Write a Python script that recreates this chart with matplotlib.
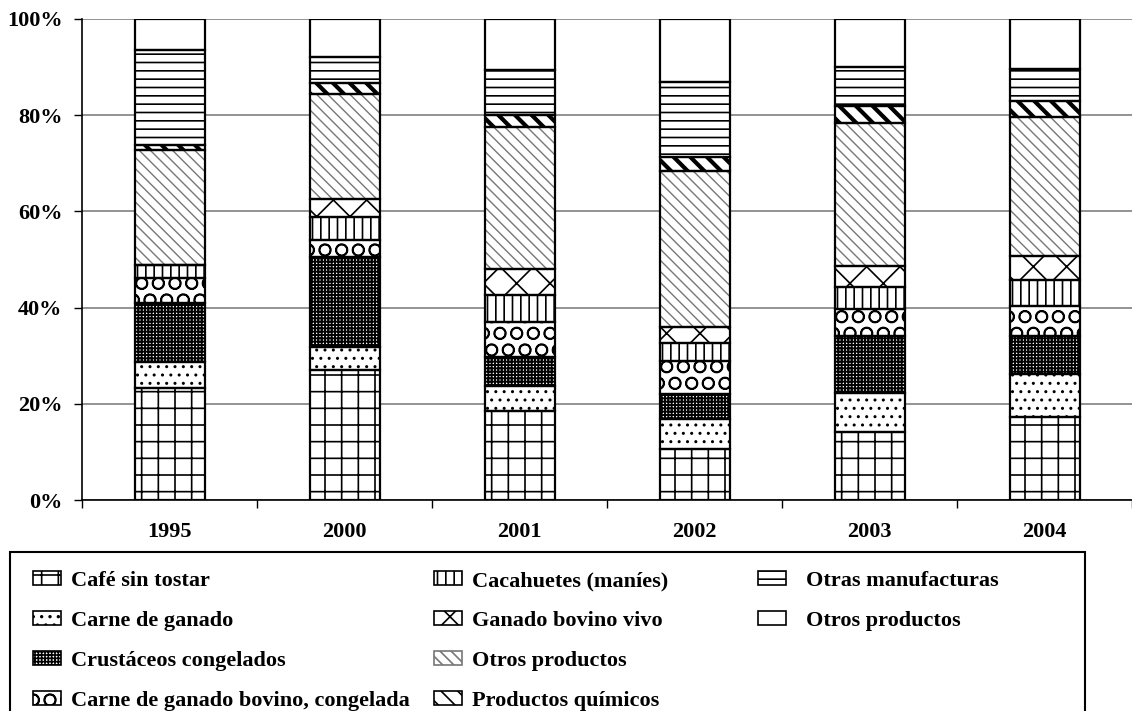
import matplotlib.pyplot as plt
from matplotlib.patches import Patch, Rectangle

plt.rcParams['font.family'] = ['Liberation Serif', 'DejaVu Serif']
plt.rcParams['font.weight'] = 'bold'
plt.rcParams['hatch.linewidth'] = 1.2

years = ["1995", "2000", "2001", "2002", "2003", "2004"]

# segment shares in %, bottom to top
cafe = [23.3, 27.0, 18.4, 10.7, 14.1, 17.3]
carne = [5.4, 4.9, 5.2, 6.1, 8.1, 8.8]
crustaceos = [12.3, 18.7, 6.2, 5.2, 11.8, 7.9]
bovino_cong = [5.2, 3.5, 7.3, 6.8, 5.8, 6.3]
cacahuetes = [2.7, 4.8, 5.5, 3.9, 4.5, 5.4]
ganado_vivo = [0.0, 3.7, 5.4, 3.3, 4.3, 5.1]
otros_1 = [23.9, 21.9, 29.6, 32.5, 29.8, 28.8]
quimicos = [1.0, 2.1, 2.4, 2.9, 3.5, 3.4]
manufacturas = [19.8, 5.6, 9.3, 15.4, 8.2, 6.7]
otros_2 = [6.4, 7.8, 10.7, 13.2, 9.9, 10.3]

# label, values, hatch, hatch colour, hatch width
series = [
    ("Café sin tostar", cafe, "+", "black", 1.2),
    ("Carne de ganado", carne, "..", "black", 1.0),
    ("Crustáceos congelados", crustaceos, "+++++", "black", 1.4),
    ("Carne de ganado bovino, congelada", bovino_cong, "O", "black", 1.2),
    ("Cacahuetes (maníes)", cacahuetes, "||", "black", 1.2),
    ("Ganado bovino vivo", ganado_vivo, "x", "black", 1.2),
    ("Otros productos", otros_1, "\\\\\\", "#777777", 1.0),
    ("Productos químicos", quimicos, "\\\\", "black", 3.0),
    ("Otras manufacturas", manufacturas, "--", "black", 1.2),
    ("Otros productos", otros_2, "", "black", 1.2),
]

fs = 16

fig = plt.figure(figsize=(11.32, 7.11), dpi=100)
ax = fig.add_axes([82 / 1132, 211 / 711, 1050 / 1132, 481 / 711])

x = list(range(len(years)))
width = 0.4
bottom = [0.0] * len(years)
handles = []
for label, vals, hatch, hcol, hlw in series:
    with plt.rc_context({"hatch.linewidth": hlw}):
        bars = ax.bar(x, vals, width, bottom=bottom, color="white",
                      edgecolor=hcol, hatch=hatch, linewidth=0, zorder=2)
        for b in bars:
            if hasattr(b, "set_hatch_linewidth"):
                b.set_hatch_linewidth(hlw)
        h = Patch(facecolor="white", edgecolor=hcol, hatch=hatch,
                  linewidth=1.2)
        if hasattr(h, "set_hatch_linewidth"):
            h.set_hatch_linewidth(min(hlw, 2.2))
    ax.bar(x, vals, width, bottom=bottom, fill=False, edgecolor="black",
           linewidth=1.6, zorder=3)
    handles.append(h)
    bottom = [b + v for b, v in zip(bottom, vals)]

ax.set_xlim(-0.5, -0.5 + 1050 / 176.7)
ax.set_ylim(0, 100)
ax.set_yticks([0, 20, 40, 60, 80, 100])
ax.set_yticklabels([f"{v}%" for v in [0, 20, 40, 60, 80, 100]], fontsize=fs)
ax.yaxis.grid(True, color="#808080", linewidth=1.2, zorder=0)
ax.set_axisbelow(True)

ax.set_xticks(x)
ax.set_xticklabels(years, fontsize=fs)
ax.set_xticks([i - 0.5 for i in range(len(years) + 1)], minor=True)
ax.tick_params(axis="x", which="major", length=0, pad=16)
ax.tick_params(axis="x", which="minor", length=6, width=1, direction="out")
ax.tick_params(axis="y", length=6, width=1, direction="out", pad=8)

for s in ["top", "right"]:
    ax.spines[s].set_visible(False)
ax.spines["left"].set_linewidth(1.2)
ax.spines["bottom"].set_linewidth(1.2)

# legend box (runs off the bottom of the picture, as in the original)
fig.patches.append(Rectangle((10 / 1132, -0.05), 1075 / 1132, 1.05 - 552 / 711,
                             transform=fig.transFigure, fill=False,
                             edgecolor="black", linewidth=1.5))

labels = [s[0] for s in series]
leg_kw = dict(loc="upper left", frameon=False, fontsize=fs, handlelength=1.25,
              handleheight=0.6, labelspacing=0.9, borderaxespad=0,
              borderpad=0)

leg1 = fig.legend(handles[:8], labels[:8], ncol=2,
                  bbox_to_anchor=(33 / 1132, 1 - 571 / 711),
                  handletextpad=0.45, columnspacing=1.1, **leg_kw)
leg2 = fig.legend(handles[8:], labels[8:], ncol=1,
                  bbox_to_anchor=(758 / 1132, 1 - 571 / 711),
                  handletextpad=0.9, **leg_kw)

fig.savefig("out.png", dpi=100)
